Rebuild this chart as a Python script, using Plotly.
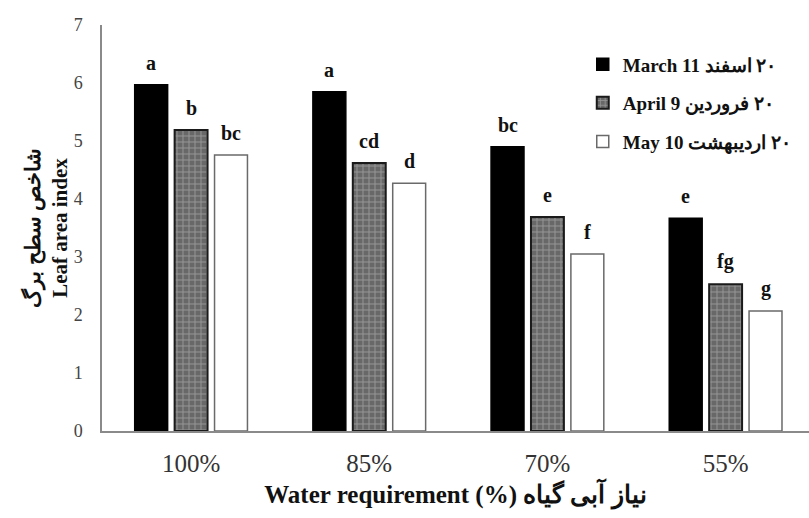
import plotly.graph_objects as go

categories = ["100%", "85%", "70%", "55%"]
series_names = ["March 11 \u200f۲۰ اسفند", "April 9 \u200f۲۰ فروردین", "May 10 \u200f۲۰ اردیبهشت"]
march = [5.97, 5.85, 4.90, 3.67]
april = [5.19, 4.62, 3.69, 2.53]
may = [4.76, 4.27, 3.05, 2.07]
letters_march = ["a", "a", "bc", "e"]
letters_april = ["b", "cd", "e", "fg"]
letters_may = ["bc", "d", "f", "g"]
y_ticks = [0, 1, 2, 3, 4, 5, 6, 7]

SERIF = "Liberation Serif, Times New Roman, DejaVu Serif, serif"

fig = go.Figure()
styles = [
    dict(marker=dict(color="#000000", line=dict(color="#000000", width=1.5))),
    dict(marker=dict(color="#686868",
                     pattern=dict(shape="+", fgcolor="#c4c4c4", bgcolor="#686868", size=6, solidity=0.3),
                     line=dict(color="#1a1a1a", width=2))),
    dict(marker=dict(color="#ffffff", line=dict(color="#6a6a6a", width=1.5))),
]
all_vals = [march, april, may]
all_letters = [letters_march, letters_april, letters_may]
for i, (name, vals) in enumerate(zip(series_names, all_vals)):
    fig.add_trace(go.Bar(x=categories, y=vals, name=name, legendgroup=str(i),
                         hoverinfo="skip", **styles[i]))

bargap = 0.328
bargroupgap = 0.175
slot = (1 - bargap) / 3
for j, (vals, lets) in enumerate(zip(all_vals, all_letters)):
    for k, (v, t) in enumerate(zip(vals, lets)):
        fig.add_annotation(x=k + (j - 1) * slot, y=v, text=t, showarrow=False,
                           xref="x", yref="y", yanchor="bottom", yshift=9,
                           font=dict(family=SERIF, size=20, color="#111111", weight="bold"))

fig.update_layout(
    width=809, height=518,
    margin=dict(l=102, r=0, t=25, b=87),
    plot_bgcolor="white", paper_bgcolor="white",
    barmode="group", bargap=bargap, bargroupgap=bargroupgap,
    showlegend=True,
    legend=dict(x=0.68, y=0.95, xanchor="left", yanchor="top",
                font=dict(family=SERIF, size=19, color="#111111", weight="bold"),
                bgcolor="rgba(0,0,0,0)", tracegroupgap=11, traceorder="grouped",
                itemwidth=30),
    xaxis=dict(range=[-0.5, 3.468], showline=True, linecolor="#8a8a8a", linewidth=1.5,
               ticks="", ticklabelstandoff=9, showgrid=False,
               tickfont=dict(family=SERIF, size=25, color="#333333"),
               title=dict(text="Water requirement (%) نیاز آبی گیاه", standoff=10,
                          font=dict(family=SERIF, size=25, color="#111111", weight="bold"))),
    yaxis=dict(range=[0, 7], tickvals=y_ticks, showline=True, linecolor="#8a8a8a", linewidth=1.5,
               ticks="", showgrid=False, zeroline=False, ticklabelstandoff=14,
               tickfont=dict(family=SERIF, size=18, color="#444444"),
               title=dict(text="شاخص سطح برگ<br>Leaf area index", standoff=0,
                          font=dict(family=SERIF, size=21, color="#111111", weight="bold"))),
)

fig.write_html("out.html", config={"displayModeBar": False},
               post_script="document.body.style.margin='0';")
